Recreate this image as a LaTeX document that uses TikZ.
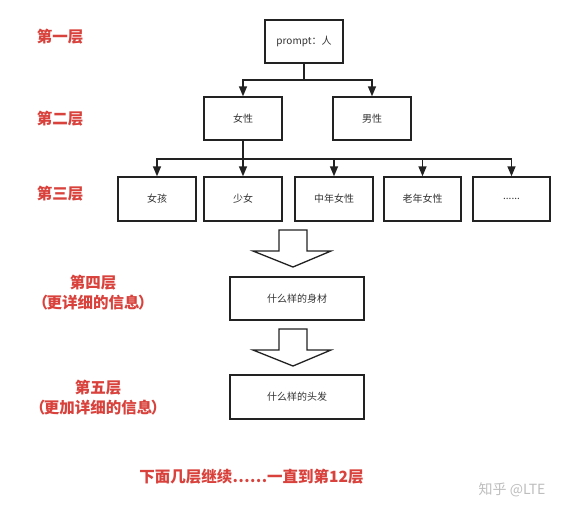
\documentclass[tikz,border=0pt]{standalone}
\usepackage{fontspec}
\setmainfont{Noto Sans CJK SC}
\usetikzlibrary{arrows.meta}
\definecolor{lblred}{RGB}{217,66,60}
\definecolor{boxline}{RGB}{34,34,34}
\definecolor{boxtext}{RGB}{51,51,51}
\definecolor{wm}{RGB}{190,190,190}
\newcommand{\lp}{（\kern-1.5pt}
\newcommand{\rp}{\kern-1.5pt）}
\begin{document}
\begin{tikzpicture}[x=1pt,y=-1pt,
  box/.style={draw=boxline,line width=1.4pt,minimum width=78pt,minimum height=43pt,inner sep=0pt,
    text=boxtext,font=\fontsize{10}{12}\selectfont},
  conn/.style={draw=boxline,line width=1.4pt,-{Triangle[width=8pt,length=10pt]}},
  plain/.style={draw=boxline,line width=1.4pt},
  lbl/.style={text=lblred,font=\fontsize{15.5}{20}\selectfont\bfseries,align=center,inner sep=0pt},
  bigarrow/.style={draw=boxline,line width=1.3pt,fill=white,line join=miter}]
\useasboundingbox (0,0) rectangle (572,514);
\fill[white] (0,0) rectangle (572,514);

% level 1
\node[box] (top) at (304,41.5) {prompt：人};
% level 2
\node[box] (f) at (243,118.5) {女性};
\node[box] (m) at (372,118.5) {男性};
% level 3
\node[box,minimum height=44pt] (c1) at (157,199) {女孩};
\node[box,minimum height=44pt] (c2) at (243,199) {少女};
\node[box,minimum height=44pt] (c3) at (334,199) {中年女性};
\node[box,minimum height=44pt,minimum width=77pt] (c4) at (422.5,199) {老年女性};
\node[box,minimum height=44pt,minimum width=77pt] (c5) at (511.5,199) {......};
% level 4, 5
\node[box,minimum width=134pt] (d4) at (297,298.5) {什么样的身材};
\node[box,minimum width=134pt,minimum height=44pt] (d5) at (297,397) {什么样的头发};

% connectors
\coordinate (j1) at (304,80);
\draw[plain] (top.south) -- (j1);
\draw[conn] (j1) -| (f.north);
\draw[conn] (j1) -| (m.north);
\coordinate (j2) at (243,159);
\draw[plain] (f.south) -- (j2);
\draw[conn] (j2) -| (c1.north);
\draw[conn] (j2) -- (c2.north);
\draw[conn] (j2) -| (c3.north);
\draw[conn] (j2) -| (c4.north);
\draw[conn] (j2) -| (c5.north);

% big arrows
\draw[bigarrow] (279,230) -- (307,230) -- (307,251) -- (331,251) -- (293,267) -- (253,251) -- (279,251) -- cycle;
\draw[bigarrow] (279,329) -- (307,329) -- (307,350) -- (331,350) -- (293,366) -- (253,350) -- (279,350) -- cycle;

% labels
\node[lbl] (l1) at (60,37) {第一层};
\node[lbl] (l2) at (60,119) {第二层};
\node[lbl] (l3) at (60,194) {第三层};
\node[lbl] (l4) at (93,293) {第四层\\\lp 更详细的信息\rp};
\node[lbl] (l5) at (98,398) {第五层\\\lp 更加详细的信息\rp};
\node[lbl] (l6) at (251.5,477) {下面几层继续……一直到第12层};
\node[text=wm,font=\fontsize{14}{16}\selectfont,inner sep=0pt] (wmk) at (512,490) {知乎 @LTE};
\end{tikzpicture}
\end{document}
